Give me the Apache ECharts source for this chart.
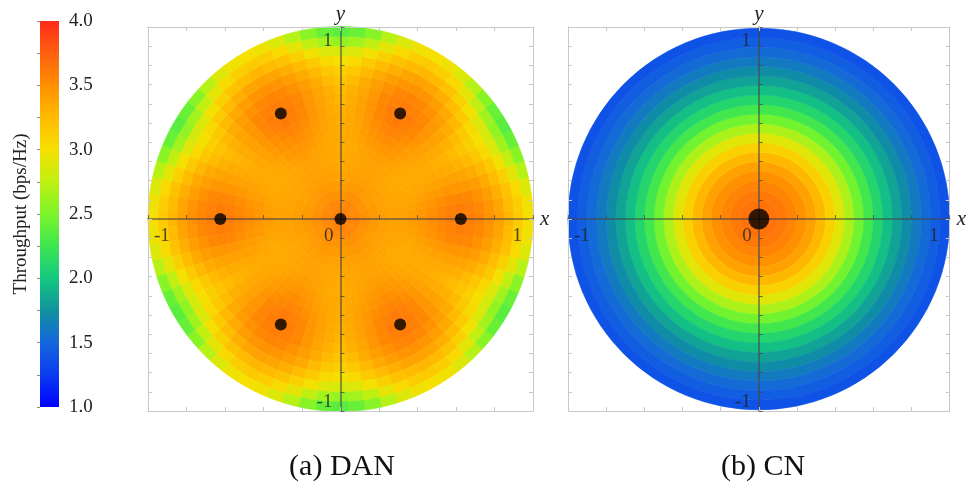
<!DOCTYPE html>
<html>
<head>
<meta charset="utf-8">
<title>Throughput: DAN vs CN</title>
<script src="https://cdn.jsdelivr.net/npm/echarts@6/dist/echarts.min.js"></script>
<style>
  html, body { margin: 0; padding: 0; background: #fff; }
  #chart { width: 969px; height: 483px; }
</style>
</head>
<body>
<div id="chart"></div>
<script>
// throughput scale (bps/Hz)
var scaleMin = 1.0;
var scaleMax = 4.0;

// ring edges (distance from centre)
var ringEdges = [0, 0.05, 0.1, 0.15, 0.2, 0.25, 0.3, 0.35, 0.4, 0.45, 0.5,
                 0.55, 0.6, 0.65, 0.7, 0.75, 0.8, 0.85, 0.9, 0.95, 1.0];

// (a) DAN: radial profiles read along directions measured from the nearest outer node
// (0 deg = through a node, 30 deg = half way between two nodes)
var danFold0  = [3.60, 3.57, 3.51, 3.46, 3.42, 3.40, 3.40, 3.43, 3.47, 3.52, 3.57, 3.61, 3.62, 3.60, 3.56, 3.49, 3.40, 3.28, 3.15, 3.00];
var danFold5  = [3.60, 3.57, 3.51, 3.46, 3.42, 3.40, 3.40, 3.42, 3.46, 3.50, 3.54, 3.58, 3.60, 3.58, 3.54, 3.47, 3.38, 3.25, 3.12, 2.97];
var danFold10 = [3.59, 3.56, 3.50, 3.45, 3.41, 3.39, 3.39, 3.40, 3.44, 3.47, 3.51, 3.54, 3.55, 3.54, 3.49, 3.42, 3.32, 3.20, 3.05, 2.88];
var danFold15 = [3.59, 3.56, 3.50, 3.45, 3.41, 3.39, 3.38, 3.38, 3.40, 3.43, 3.45, 3.47, 3.47, 3.46, 3.42, 3.35, 3.24, 3.10, 2.92, 2.72];
var danFold20 = [3.58, 3.55, 3.49, 3.44, 3.41, 3.38, 3.37, 3.36, 3.37, 3.39, 3.40, 3.40, 3.40, 3.38, 3.34, 3.26, 3.15, 2.98, 2.76, 2.55];
var danFold25 = [3.58, 3.54, 3.48, 3.43, 3.40, 3.38, 3.36, 3.35, 3.36, 3.36, 3.36, 3.35, 3.34, 3.31, 3.25, 3.16, 3.05, 2.88, 2.64, 2.42];
var danFold30 = [3.58, 3.54, 3.48, 3.43, 3.40, 3.37, 3.36, 3.35, 3.35, 3.35, 3.34, 3.32, 3.29, 3.25, 3.19, 3.11, 3.00, 2.84, 2.58, 2.36];

// 5 degree sectors, starting at 0 deg (+x), counter-clockwise
var sectorAngles = [0, 5, 10, 15, 20, 25, 30, 35, 40, 45, 50, 55,
                    60, 65, 70, 75, 80, 85, 90, 95, 100, 105, 110, 115,
                    120, 125, 130, 135, 140, 145, 150, 155, 160, 165, 170, 175,
                    180, 185, 190, 195, 200, 205, 210, 215, 220, 225, 230, 235,
                    240, 245, 250, 255, 260, 265, 270, 275, 280, 285, 290, 295,
                    300, 305, 310, 315, 320, 325, 330, 335, 340, 345, 350, 355];
var danSectorProfiles = [
  danFold0, danFold5, danFold10, danFold15, danFold20, danFold25, danFold30, danFold25, danFold20, danFold15, danFold10, danFold5,
  danFold0, danFold5, danFold10, danFold15, danFold20, danFold25, danFold30, danFold25, danFold20, danFold15, danFold10, danFold5,
  danFold0, danFold5, danFold10, danFold15, danFold20, danFold25, danFold30, danFold25, danFold20, danFold15, danFold10, danFold5,
  danFold0, danFold5, danFold10, danFold15, danFold20, danFold25, danFold30, danFold25, danFold20, danFold15, danFold10, danFold5,
  danFold0, danFold5, danFold10, danFold15, danFold20, danFold25, danFold30, danFold25, danFold20, danFold15, danFold10, danFold5,
  danFold0, danFold5, danFold10, danFold15, danFold20, danFold25, danFold30, danFold25, danFold20, danFold15, danFold10, danFold5
];

// (b) CN: one value per ring, the field is round
var cnValues = [3.66, 3.65, 3.62, 3.57, 3.50, 3.40, 3.27, 3.10, 2.90, 2.68, 2.46, 2.27,
                2.10, 1.96, 1.83, 1.72, 1.62, 1.53, 1.45, 1.38];

// access nodes
var danNodes = [[0, 0], [0.625, 0], [0.31, 0.55], [-0.31, 0.55],
                [-0.625, 0], [-0.31, -0.55], [0.31, -0.55]];
var cnNodes = [[0, 0]];

// tick labels on the central axes
var xTickLabels = [-1, 0, 1];
var yTickLabels = [1, -1];

var jet = ['#0000ff', '#0a3cf0', '#1466dc', '#10929f', '#14c880', '#3ce650', '#7cf52a',
           '#bff012', '#f6e000', '#ffbb00', '#ff9000', '#ff6010', '#ff2a1a'];
var serif = 'Liberation Serif';

function danSectorData() {
  var out = [];
  for (var i = 0; i < sectorAngles.length; i++) {
    var prof = danSectorProfiles[i];
    for (var k = 0; k < ringEdges.length - 1; k++) {
      out.push([ringEdges[k], ringEdges[k + 1], sectorAngles[i] - 2.5, sectorAngles[i] + 2.5, prof[k]]);
    }
  }
  return out;
}

function cnRingData() {
  var out = [];
  for (var k = 0; k < cnValues.length; k++) {
    out.push([ringEdges[k], ringEdges[k + 1], 0, 360, cnValues[k]]);
  }
  return out;
}

function renderSector(params, api) {
  var c = api.coord([0, 0]);
  var r0 = api.size([api.value(0), 0])[0];
  var r1 = api.size([api.value(1), 0])[0];
  var a0 = api.value(2) * Math.PI / 180;
  var a1 = api.value(3) * Math.PI / 180;
  var color = api.visual('color');
  return {
    type: 'sector',
    shape: {cx: c[0], cy: c[1], r0: r0, r: r1, startAngle: -a1, endAngle: -a0, clockwise: true},
    style: {fill: color, stroke: color, lineWidth: 0.6}
  };
}

function renderBar(params, api) {
  var p0 = api.coord([0, api.value(0)]);
  var p1 = api.coord([1, api.value(1)]);
  var stops = jet.map(function (c, i) { return {offset: i / (jet.length - 1), color: c}; });
  return {
    type: 'rect',
    shape: {x: p0[0], y: p1[1], width: p1[0] - p0[0], height: p0[1] - p1[1]},
    style: {fill: new echarts.graphic.LinearGradient(0, 1, 0, 0, stops)}
  };
}

var axisDark = 'rgba(70,70,70,0.75)';
var borderGray = '#c8c8c8';

function borderAxis(grid, pos, interval) {
  return {
    type: 'value', gridIndex: grid, position: pos, min: -1, max: 1, interval: interval, z: 4,
    axisLine: {show: true, onZero: false, lineStyle: {color: borderGray, width: 1}},
    axisTick: {show: true, inside: true, length: 4, lineStyle: {color: borderGray}},
    axisLabel: {show: false}, splitLine: {show: false}
  };
}

function centerAxis(grid, pos, interval, name, other, gap) {
  return {
    type: 'value', gridIndex: grid, position: pos, min: -1, max: 1, interval: interval, z: 4,
    name: name, nameLocation: 'end', nameGap: gap,
    nameTextStyle: {fontFamily: serif, fontStyle: 'italic', fontSize: 21, color: '#222'},
    axisLine: {show: true, onZero: true, onZeroAxisIndex: other, lineStyle: {color: axisDark, width: 1.5}},
    axisTick: {show: true, inside: true, length: 4, lineStyle: {color: axisDark}},
    axisLabel: {show: false}, splitLine: {show: false}
  };
}

function tickLabelData() {
  var out = [];
  xTickLabels.forEach(function (v) {
    var pos = v < 0 ? [6, 17] : (v === 0 ? [-7, 17] : [-11, 17]);
    out.push({value: [v, 0, String(v)],
      label: {position: pos, align: v < 0 ? 'left' : 'right', verticalAlign: 'middle'}});
  });
  yTickLabels.forEach(function (v) {
    out.push({value: [0, v, String(v)],
      label: {position: v > 0 ? [-8, 14] : [-8, -9], align: 'right', verticalAlign: 'middle'}});
  });
  return out;
}

function labelSeries(g) {
  return {
    type: 'scatter', xAxisIndex: 3 * g, yAxisIndex: 3 * g, z: 6, silent: true,
    symbolSize: 0.1, itemStyle: {color: 'rgba(0,0,0,0)'},
    label: {show: true, formatter: function (p) { return p.value[2]; },
      fontFamily: serif, fontSize: 19, color: '#222'},
    data: tickLabelData()
  };
}

var xAxes = [], yAxes = [];
[0, 1].forEach(function (g) {
  xAxes.push(centerAxis(g, 'bottom', 0.2, 'x', 3 * g, 7));
  xAxes.push(borderAxis(g, 'bottom', 0.2));
  xAxes.push(borderAxis(g, 'top', 0.2));
  yAxes.push(centerAxis(g, 'left', 0.1, 'y', 3 * g, 2));
  yAxes.push(borderAxis(g, 'left', 0.1));
  yAxes.push(borderAxis(g, 'right', 0.1));
});
// colour bar axes
xAxes.push({type: 'value', gridIndex: 2, min: 0, max: 1, show: false});
yAxes.push({
  type: 'value', gridIndex: 2, position: 'right', min: scaleMin, max: scaleMax, interval: 0.25,
  axisLine: {show: false}, splitLine: {show: false},
  axisTick: {show: true, inside: true, length: 3, lineStyle: {color: 'rgba(80,60,40,0.6)'}},
  axisLabel: {margin: 10, fontFamily: serif, fontSize: 19, color: '#222',
    formatter: function (v) { return Math.abs(v * 2 - Math.round(v * 2)) < 1e-6 ? v.toFixed(1) : ''; }}
});
yAxes.push({
  type: 'value', gridIndex: 2, position: 'left', min: scaleMin, max: scaleMax,
  axisLine: {show: false}, axisTick: {show: false}, axisLabel: {show: false}, splitLine: {show: false},
  name: 'Throughput (bps/Hz)', nameLocation: 'middle', nameGap: 9,
  nameTextStyle: {fontFamily: serif, fontSize: 19, color: '#222'}
});

var option = {
  backgroundColor: '#fff',
  animation: false,
  grid: [
    {left: 148, top: 27, width: 385, height: 384},
    {left: 568, top: 27, width: 385, height: 384},
    {left: 40, top: 21, width: 19, height: 386}
  ],
  xAxis: xAxes,
  yAxis: yAxes,
  title: [
    {text: '(a) DAN', left: 337, top: 447, textAlign: 'center',
      textStyle: {fontFamily: serif, fontSize: 30, fontWeight: 'normal', color: '#111'}},
    {text: '(b) CN', left: 758, top: 447, textAlign: 'center',
      textStyle: {fontFamily: serif, fontSize: 30, fontWeight: 'normal', color: '#111'}}
  ],
  visualMap: {
    type: 'continuous', show: false, min: scaleMin, max: scaleMax,
    dimension: 4, seriesIndex: [0, 1], inRange: {color: jet}
  },
  series: [
    {type: 'custom', name: 'DAN', xAxisIndex: 0, yAxisIndex: 0, z: 1, silent: true,
      renderItem: renderSector, data: danSectorData()},
    {type: 'custom', name: 'CN', xAxisIndex: 3, yAxisIndex: 3, z: 1, silent: true,
      renderItem: renderSector, data: cnRingData()},
    {type: 'scatter', xAxisIndex: 0, yAxisIndex: 0, z: 5, silent: true,
      symbolSize: 12, itemStyle: {color: '#000'}, data: danNodes},
    {type: 'scatter', xAxisIndex: 3, yAxisIndex: 3, z: 5, silent: true,
      symbolSize: 21, itemStyle: {color: '#000'}, data: cnNodes},
    labelSeries(0),
    labelSeries(1),
    {type: 'custom', xAxisIndex: 6, yAxisIndex: 6, silent: true,
      renderItem: renderBar, data: [[scaleMin, scaleMax]]}
  ]
};

var myChart = echarts.init(document.getElementById('chart'));
myChart.setOption(option);
</script>
</body>
</html>
